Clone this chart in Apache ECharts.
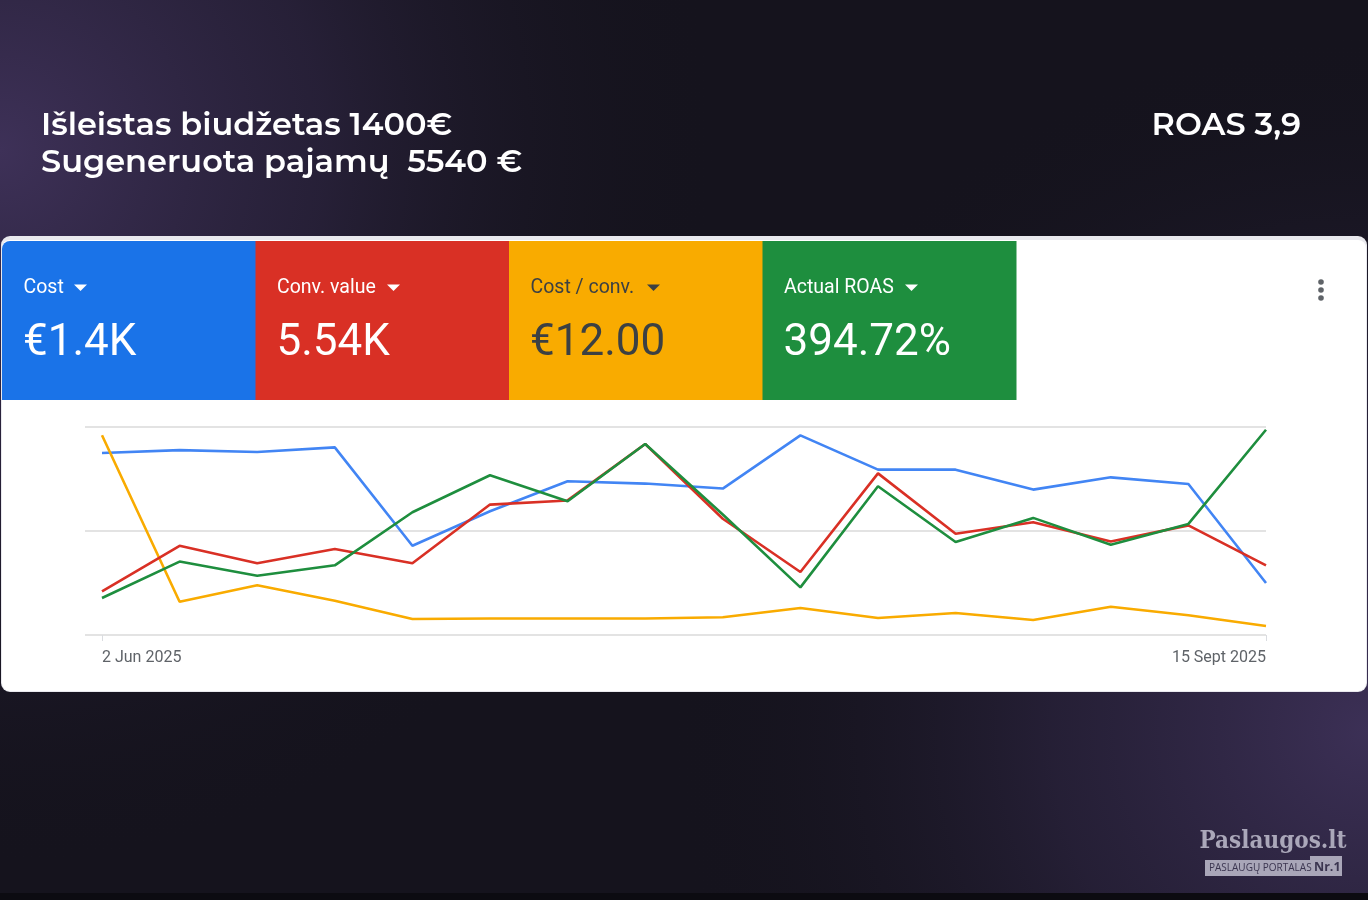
<!DOCTYPE html>
<html>
<head>
<meta charset="utf-8">
<script src="https://cdn.jsdelivr.net/npm/echarts@6/dist/echarts.min.js"></script>
<style>
html,body{margin:0;padding:0;background:#15131d;}
#chart{width:1368px;height:900px;}
</style>
</head>
<body>
<div id="chart"></div>
<script>
// ---- data ----
const categories = ['2 Jun 2025','9 Jun 2025','16 Jun 2025','23 Jun 2025','30 Jun 2025','7 Jul 2025','14 Jul 2025','21 Jul 2025','28 Jul 2025','4 Aug 2025','11 Aug 2025','18 Aug 2025','25 Aug 2025','1 Sept 2025','8 Sept 2025','15 Sept 2025'];
// relative (normalised 0-100) heights
const costSeries     = [87.5, 88.9, 88.0, 90.2, 42.9, 59.5, 73.9, 72.8, 70.4, 96.0, 79.5, 79.5, 69.9, 75.8, 72.6, 25.0];
const convValue      = [21.0, 42.9, 34.5, 41.3, 34.5, 62.7, 64.7, 91.8, 55.9, 30.3, 77.7, 48.7, 54.2, 45.0, 52.7, 33.5];
const costPerConv    = [96.0, 16.0, 23.9, 16.5, 7.7, 7.9, 7.9, 7.9, 8.5, 13.0, 8.2, 10.6, 7.2, 13.6, 9.5, 4.3];
const actualRoas     = [17.8, 35.3, 28.5, 33.5, 59.0, 76.8, 64.3, 91.8, 57.9, 22.9, 71.5, 44.7, 56.3, 43.4, 53.4, 98.7];
const tileLabels = ['Cost', 'Conv. value', 'Cost / conv.', 'Actual ROAS'];
const tileValues = ['€1.4K', '5.54K', '€12.00', '394.72%'];
const headerLines = ['Išleistas biudžetas 1400€', 'Sugeneruota pajamų  5540 €'];
const headerRight = 'ROAS 3,9';

const tileColors = ['#1a73e8', '#d93025', '#f9ab00', '#1e8e3e'];
const tileText = ['#ffffff', '#ffffff', '#3c4043', '#ffffff'];
const arrowX = [74, 387, 647, 905];

const chart = echarts.init(document.getElementById('chart'), null, {renderer: 'canvas'});

const graphics = [];
// background
graphics.push({type:'rect', z:-10, shape:{x:0,y:0,width:1368,height:900}, style:{fill:'#15131d'}, silent:true});
graphics.push({type:'rect', z:-9, shape:{x:0,y:0,width:1368,height:900}, silent:true,
  style:{fill:{type:'radial', x:0, y:150, r:720, global:true,
    colorStops:[{offset:0,color:'rgba(62,49,88,1)'},{offset:0.45,color:'rgba(50,40,72,0.6)'},{offset:1,color:'rgba(21,19,29,0)'}]}}});
graphics.push({type:'rect', z:-9, shape:{x:0,y:0,width:1368,height:900}, silent:true,
  style:{fill:{type:'radial', x:1368, y:730, r:700, global:true,
    colorStops:[{offset:0,color:'rgba(60,48,86,1)'},{offset:0.45,color:'rgba(48,39,70,0.6)'},{offset:1,color:'rgba(21,19,29,0)'}]}}});
graphics.push({type:'rect', z:-8, shape:{x:0,y:893,width:1368,height:7}, style:{fill:'#0c0b11'}, silent:true});

// header
headerLines.forEach((t, i) => {
  graphics.push({type:'text', x:41, y:126 + i*37, z:5, silent:true,
    style:{text:t, fill:'#ffffff', fontSize:32, fontWeight:600, fontFamily:'Montserrat, "Open Sans", Lato, sans-serif', textVerticalAlign:'middle', textAlign:'left'}});
});
graphics.push({type:'text', x:1301, y:126, z:5, silent:true,
  style:{text:headerRight, fill:'#ffffff', fontSize:32, fontWeight:600, fontFamily:'Montserrat, "Open Sans", Lato, sans-serif', textVerticalAlign:'middle', textAlign:'right'}});

// card
graphics.push({type:'rect', z:-5, silent:true, shape:{x:1,y:236,width:1366,height:456,r:9}, style:{fill:'#e9e9ee'}});
graphics.push({type:'rect', z:-4, silent:true, shape:{x:2,y:240,width:1364,height:451,r:8}, style:{fill:'#ffffff'}});

// tiles
for (let i = 0; i < 4; i++) {
  const x0 = 2 + i * 253.5;
  graphics.push({type:'rect', z:-3, silent:true,
    shape:{x:x0, y:241, width:254, height:159, r: i===0 ? [8,0,0,0] : 0},
    style:{fill:tileColors[i]}});
  graphics.push({type:'text', x:x0 + 21.5, y:288.5, z:5, silent:true,
    style:{text:tileLabels[i], fill:tileText[i], fontSize:19.5, fontFamily:'Roboto, sans-serif', textVerticalAlign:'middle'}});
  graphics.push({type:'polygon', z:5, silent:true,
    shape:{points:[[arrowX[i],284.5],[arrowX[i]+13,284.5],[arrowX[i]+6.5,291]]},
    style:{fill:tileText[i]}});
  graphics.push({type:'text', x:x0 + 21, y:344, z:5, silent:true,
    style:{text:tileValues[i], fill:tileText[i], fontSize:44, fontFamily:'Roboto, sans-serif', textVerticalAlign:'middle'}});
}
// menu dots
[282, 290, 298].forEach(y => graphics.push({type:'circle', z:5, silent:true, shape:{cx:1321, cy:y, r:2.8}, style:{fill:'#5f6368'}}));

// logo
graphics.push({type:'text', x:1273, y:842, z:5, silent:true,
  style:{text:'Paslaugos.lt', fill:'#aaa7b9', fontSize:24, fontWeight:'bold', fontFamily:'"DejaVu Serif Condensed", "Liberation Serif", serif', textAlign:'center', textVerticalAlign:'middle'}});
graphics.push({type:'rect', z:4, silent:true, shape:{x:1205,y:860,width:107,height:16}, style:{fill:'#a9a6b8'}});
graphics.push({type:'rect', z:4, silent:true, shape:{x:1310,y:856,width:32,height:20}, style:{fill:'#a9a6b8'}});
graphics.push({type:'text', x:1209, y:868.5, z:5, silent:true,
  style:{text:'PASLAUGŲ PORTALAS', fill:'#3b3550', fontSize:10, fontFamily:'"Open Sans", sans-serif', textVerticalAlign:'middle'}});
graphics.push({type:'text', x:1314, y:867, z:5, silent:true,
  style:{text:'Nr.1', fill:'#3b3550', fontSize:12.5, fontWeight:'bold', fontFamily:'"Open Sans", sans-serif', textVerticalAlign:'middle'}});

const mkSeries = (name, data, color, z) => ({
  name, type:'line', data, xAxisIndex:0, yAxisIndex:0, symbol:'none', z,
  lineStyle: {width:2.6, color}, itemStyle:{color}, animation:false
});

const option = {
  animation: false,
  backgroundColor: 'transparent',
  graphic: graphics,
  grid: [
    {left:102, right:102, top:427, bottom:265},
    {left:85, right:102, top:427, bottom:265}
  ],
  xAxis: [
    {type:'category', gridIndex:0, data:categories, boundaryGap:false,
     axisLine:{show:false},
     axisTick:{show:true, length:6, interval:(i)=> i===0 || i===categories.length-1, lineStyle:{color:'#dadce0', width:1}},
     axisLabel:{interval:(i)=> i===0 || i===categories.length-1, color:'#5f6368', fontSize:16, fontFamily:'Roboto, sans-serif', margin:15, alignMinLabel:'left', alignMaxLabel:'right'},
     splitLine:{show:false}},
    {type:'value', gridIndex:1, min:0, max:1, show:false}
  ],
  yAxis: [
    {type:'value', gridIndex:0, min:0, max:100, show:false, splitLine:{show:false}},
    {type:'value', gridIndex:1, min:0, max:100, interval:50,
     axisLine:{show:false}, axisTick:{show:false}, axisLabel:{show:false},
     splitLine:{show:true, lineStyle:{color:'#e3e3e3', width:2}}}
  ],
  series: [
    mkSeries('Cost', costSeries, '#4285f4', 3),
    mkSeries('Cost / conv.', costPerConv, '#f9ab00', 4),
    mkSeries('Conv. value', convValue, '#d93025', 5),
    mkSeries('Actual ROAS', actualRoas, '#1e8e3e', 6)
  ]
};
chart.setOption(option);
</script>
</body>
</html>
